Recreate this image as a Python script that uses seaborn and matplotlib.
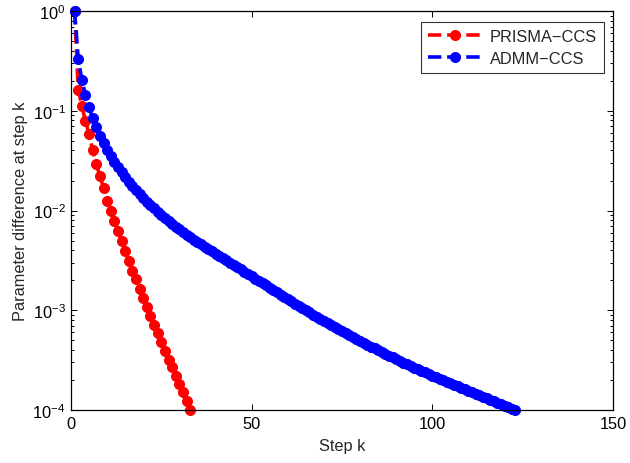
import numpy as np
import pandas as pd
import matplotlib
matplotlib.use("Agg")
import matplotlib.pyplot as plt
import seaborn as sns

# values (y is log scale)
prisma_vals = [1.0, 1.62e-1, 1.12e-1, 7.9e-2, 5.9e-2, 4.0e-2, 2.95e-2, 2.2e-2, 1.7e-2,
               1.26e-2, 1.0e-2, 7.9e-3, 6.2e-3, 4.9e-3, 3.9e-3, 3.1e-3, 2.5e-3,
               2.04e-3, 1.62e-3, 1.32e-3, 1.07e-3, 8.7e-4, 7.1e-4, 5.9e-4, 4.8e-4,
               3.9e-4, 3.16e-4, 2.7e-4, 2.19e-4, 1.82e-4, 1.51e-4, 1.23e-4, 1.0e-4]

# ADMM curve, read as decades (log10 of the value)
admm_exp = [0.0, -0.480, -0.690, -0.840, -0.965, -1.073, -1.167, -1.250, -1.324, -1.391,
            -1.453, -1.511, -1.565, -1.616, -1.664, -1.710, -1.754, -1.796, -1.836, -1.874,
            -1.910, -1.945, -1.979, -2.012, -2.044, -2.075, -2.105, -2.134, -2.162, -2.189,
            -2.215, -2.241, -2.266, -2.291, -2.315, -2.339, -2.363, -2.386, -2.409, -2.431,
            -2.454, -2.477, -2.500, -2.523, -2.545, -2.568, -2.591, -2.614, -2.637, -2.659,
            -2.682, -2.705, -2.728, -2.751, -2.773, -2.796, -2.819, -2.842, -2.865, -2.887,
            -2.910, -2.933, -2.956, -2.978, -3.000, -3.021, -3.043, -3.064, -3.086, -3.107,
            -3.128, -3.149, -3.170, -3.190, -3.210, -3.230, -3.250, -3.270, -3.289, -3.308,
            -3.327, -3.346, -3.365, -3.383, -3.401, -3.419, -3.437, -3.455, -3.473, -3.490,
            -3.507, -3.524, -3.541, -3.558, -3.575, -3.591, -3.607, -3.623, -3.639, -3.655,
            -3.671, -3.687, -3.703, -3.718, -3.733, -3.748, -3.763, -3.778, -3.793, -3.808,
            -3.823, -3.838, -3.852, -3.867, -3.881, -3.896, -3.911, -3.925, -3.940, -3.955,
            -3.970, -3.985, -4.000]
admm_vals = [10 ** e for e in admm_exp]

prisma_steps = list(range(1, len(prisma_vals) + 1))
admm_steps = list(range(1, len(admm_vals) + 1))

df = pd.concat([
    pd.DataFrame({"step": prisma_steps, "diff": prisma_vals, "method": "PRISMA\u2212CCS"}),
    pd.DataFrame({"step": admm_steps, "diff": admm_vals, "method": "ADMM\u2212CCS"}),
])

sns.set_style("ticks")
plt.rcParams['font.family'] = ['Liberation Sans', 'DejaVu Sans']
plt.rcParams['mathtext.fontset'] = 'custom'
plt.rcParams['mathtext.rm'] = 'Liberation Sans'
plt.rcParams['mathtext.it'] = 'Liberation Sans:italic'

fig = plt.figure(figsize=(6.3, 4.64), dpi=100)
ax = fig.add_axes([0.1127, 0.1142, 0.8603, 0.8598])

colors = {"PRISMA\u2212CCS": "#ff0000", "ADMM\u2212CCS": "#0000ff"}
for name, grp in df.groupby("method", sort=False):
    sns.lineplot(data=grp, x="step", y="diff", ax=ax, color=colors[name],
                 linestyle="--", linewidth=2.6, marker="o", markersize=7.2,
                 markeredgecolor=colors[name], label=name, clip_on=False,
                 dashes=(2.8, 2.2))

ax.set_yscale("log")
ax.set_xlim(0, 150)
ax.set_ylim(1e-4, 1)
ax.set_xticks([0, 50, 100, 150])
ax.set_yticks([1e-4, 1e-3, 1e-2, 1e-1, 1])
ax.tick_params(which="both", direction="in", top=True, right=True,
               labelsize=11.8, width=0.7, colors="black")
ax.tick_params(which="major", length=4.5, pad=4)
ax.tick_params(which="minor", length=2.5)
for s in ax.spines.values():
    s.set_linewidth(0.9)
    s.set_color("black")

ax.set_xlabel("Step k", fontsize=11.8, labelpad=5)
ax.set_ylabel("Parameter difference at step k", fontsize=11.8, labelpad=3)

leg = ax.legend(loc="upper right", fontsize=11.8, handlelength=3.3,
                frameon=True, fancybox=False, borderpad=0.4, borderaxespad=0,
                labelspacing=0.45, handletextpad=0.5,
                bbox_to_anchor=(0.983, 0.972))
leg.get_frame().set_edgecolor("black")
leg.get_frame().set_linewidth(0.8)

plt.savefig("out.png", dpi=100)
plt.close()
